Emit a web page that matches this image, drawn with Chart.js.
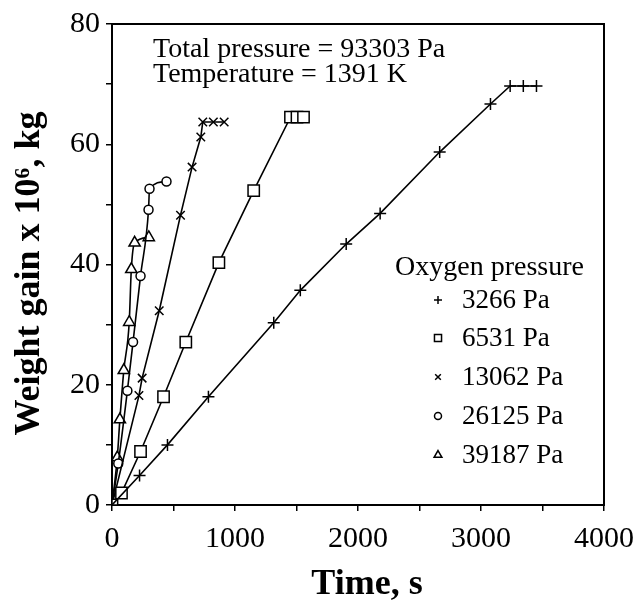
<!DOCTYPE html>
<html><head><meta charset="utf-8">
<script src="https://cdn.jsdelivr.net/npm/chart.js@4.4.1/dist/chart.umd.min.js"></script>
<style>html,body{margin:0;padding:0;background:#fff;}#wrap{width:644px;height:601px;}</style>
</head><body><div id="wrap"><canvas id="c" width="644" height="601"></canvas></div>
<script>
// ---- data ----
const seriesLabels = ['3266 Pa', '6531 Pa', '13062 Pa', '26125 Pa', '39187 Pa'];
const legendTitle = 'Oxygen pressure';
const noteLines = ['Total pressure = 93303 Pa', 'Temperature = 1391 K'];
const xTickLabels = [0, 1000, 2000, 3000, 4000];
const yTickLabels = [0, 20, 40, 60, 80];

const t3266 = [0, 224, 451, 784, 1315, 1531, 1904, 2180, 2664, 3077, 3237, 3344, 3451];
const w3266 = [0, 4.9, 10.0, 18.0, 30.3, 35.7, 43.4, 48.5, 58.7, 66.7, 69.7, 69.7, 69.7];
const t6531 = [0, 77, 232, 419, 600, 869, 1152, 1451, 1504, 1557];
const w6531 = [0, 2.0, 8.9, 18.0, 27.1, 40.3, 52.3, 64.5, 64.5, 64.5];
const t13062 = [0, 219, 245, 384, 557, 651, 722, 738, 824, 912];
const w13062 = [0, 18.2, 21.1, 32.3, 48.2, 56.2, 61.2, 63.7, 63.7, 63.7];
const t26125 = [0, 51, 125, 171, 232, 297, 305, 443];
const w26125 = [0, 6.9, 19.0, 27.1, 38.1, 49.1, 52.6, 53.8];
const t39187 = [0, 43, 64, 96, 140, 157, 184, 299];
const w39187 = [0, 7.9, 14.2, 22.4, 30.4, 39.2, 43.6, 44.5];

const FONT = "'Liberation Serif', 'Times New Roman', serif";
const toPts = (t, w) => t.map((v, i) => ({x: v, y: w[i]}));

const styles = [
  {ps: 'cross', r: 6, lr: 4},
  {ps: 'rect', r: 8, lr: 5},
  {ps: 'crossRot', r: 6, lr: 4},
  {ps: 'circle', r: 4.5, lr: 3.5},
  {ps: 'triangle', r: 6.5, lr: 4.5}
];
const series = [[t3266, w3266], [t6531, w6531], [t13062, w13062], [t26125, w26125], [t39187, w39187]];

const datasets = series.map((s, i) => ({
  label: seriesLabels[i],
  data: toPts(s[0], s[1]),
  showLine: true,
  borderColor: '#000',
  borderWidth: 1.6,
  backgroundColor: '#fff',
  pointStyle: styles[i].ps,
  pointRadius: styles[i].r,
  pointBorderWidth: 1.5,
  pointBorderColor: '#000',
  pointBackgroundColor: '#fff',
  tension: 0,
  cubicInterpolationMode: (i >= 3) ? 'monotone' : 'default'
}));

function drawMarker(ctx, style, r, x, y) {
  ctx.save();
  ctx.strokeStyle = '#000'; ctx.fillStyle = '#fff'; ctx.lineWidth = 1.5;
  if (Chart.helpers && Chart.helpers.drawPoint) {
    Chart.helpers.drawPoint(ctx, {pointStyle: style, radius: r, rotation: 0, borderWidth: 1.5}, x, y);
  }
  ctx.restore();
}

const framePlugin = {
  id: 'frame',
  beforeDatasetsDraw(chart) {
    const {ctx, chartArea: a} = chart;
    ctx.save();
    ctx.strokeStyle = '#000'; ctx.lineWidth = 2;
    ctx.strokeRect(a.left, a.top, a.right - a.left, a.bottom - a.top);
    ctx.restore();
  },
  afterDraw(chart) {
    const {ctx} = chart;
    ctx.save();
    ctx.fillStyle = '#000';
    ctx.textBaseline = 'alphabetic';
    ctx.textAlign = 'left';
    ctx.font = '28px ' + FONT;
    ctx.fillText(noteLines[0], 153, 57);
    ctx.fillText(noteLines[1], 153, 82);
    ctx.font = '28px ' + FONT;
    ctx.fillText(legendTitle, 395, 275);
    const ys = [300, 338, 377, 416, 455];
    ctx.font = '27px ' + FONT;
    ctx.textBaseline = 'middle';
    seriesLabels.forEach((lab, i) => {
      drawMarker(ctx, styles[i].ps, styles[i].lr, 438, ys[i]);
      ctx.fillStyle = '#000';
      ctx.fillText(lab, 462, ys[i] + 1);
    });
    ctx.restore();
  }
};

new Chart(document.getElementById('c'), {
  type: 'scatter',
  data: {datasets},
  plugins: [framePlugin],
  options: {
    responsive: false,
    animation: false,
    devicePixelRatio: 1,
    layout: {padding: {top: 17, right: 32, left: 0, bottom: 0}},
    plugins: {legend: {display: false}, tooltip: {enabled: false}},
    scales: {
      x: {
        type: 'linear', min: 0, max: 4000,
        afterFit(s) { s.height = 96; },
        ticks: {
          stepSize: 500, autoSkip: false, maxRotation: 0, padding: 10,
          color: '#000', font: {family: FONT, size: 30},
          callback: v => xTickLabels.includes(v) ? String(v) : ''
        },
        grid: {drawOnChartArea: false, drawTicks: true, tickLength: 6, color: '#000', lineWidth: 1.5},
        border: {display: true, color: '#000', width: 2},
        title: {display: true, text: '  Time, s', color: '#000',
          font: {family: FONT, size: 36, weight: 'bold', lineHeight: 0.9}, padding: {top: 0, bottom: 0}}
      },
      y: {
        type: 'linear', min: 0, max: 80,
        afterFit(s) { s.width = 112; },
        ticks: {
          stepSize: 10, autoSkip: false, padding: 6,
          color: '#000', font: {family: FONT, size: 30},
          callback: v => yTickLabels.includes(v) ? String(v) : ''
        },
        grid: {drawOnChartArea: false, drawTicks: true, tickLength: 6, color: '#000', lineWidth: 1.5},
        border: {display: true, color: '#000', width: 2},
        title: {display: true, text: 'Weight gain x 10\u2076, kg  ', color: '#000',
          font: {family: FONT, size: 36, weight: 'bold', lineHeight: 0.9}, padding: {top: 14, bottom: 0}}
      }
    }
  }
});
</script></body></html>
